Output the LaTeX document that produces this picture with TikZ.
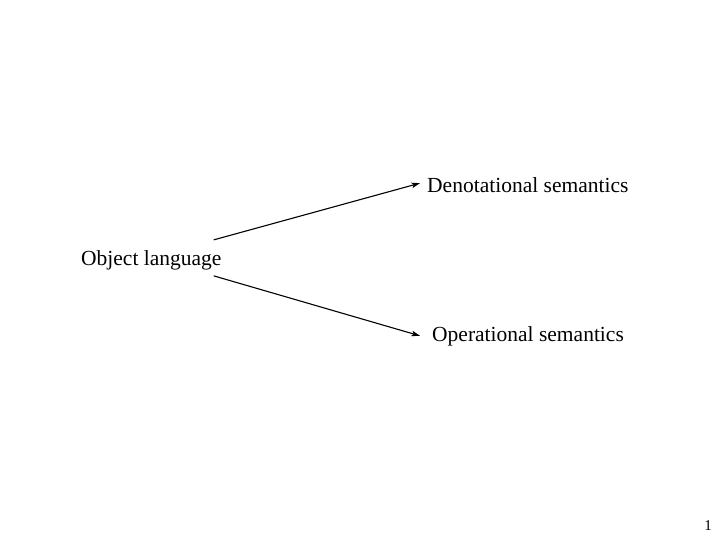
\documentclass[tikz,border=0pt]{standalone}
\usepackage{fontspec}
\setmainfont{Liberation Serif}
\usetikzlibrary{arrows.meta}
\begin{document}
\begin{tikzpicture}[x=1pt,y=-1pt,
  lbl/.style={inner sep=0pt,anchor=base west,font=\fontsize{21.5}{26}\selectfont},
  conn/.style={line width=1.1pt,-{Stealth[length=8.5pt,width=5.5pt,inset=2pt]}}]
\useasboundingbox (0,0) rectangle (720,541);
\node[lbl] (obj) at (81,265) {Object language};
\node[lbl] (den) at (427,192) {Denotational semantics};
\node[lbl] (op) at (432,341) {Operational semantics};
\node[inner sep=0pt,anchor=base,font=\fontsize{15}{17}\selectfont] (pg) at (708,530) {1};
\draw[conn] ([xshift=-8pt,yshift=10pt]obj.north east) -- ([xshift=-7pt,yshift=1.5pt]den.west);
\draw[conn] ([xshift=-8pt,yshift=-6pt]obj.south east) -- ([xshift=-12pt]op.west);
\end{tikzpicture}
\end{document}
